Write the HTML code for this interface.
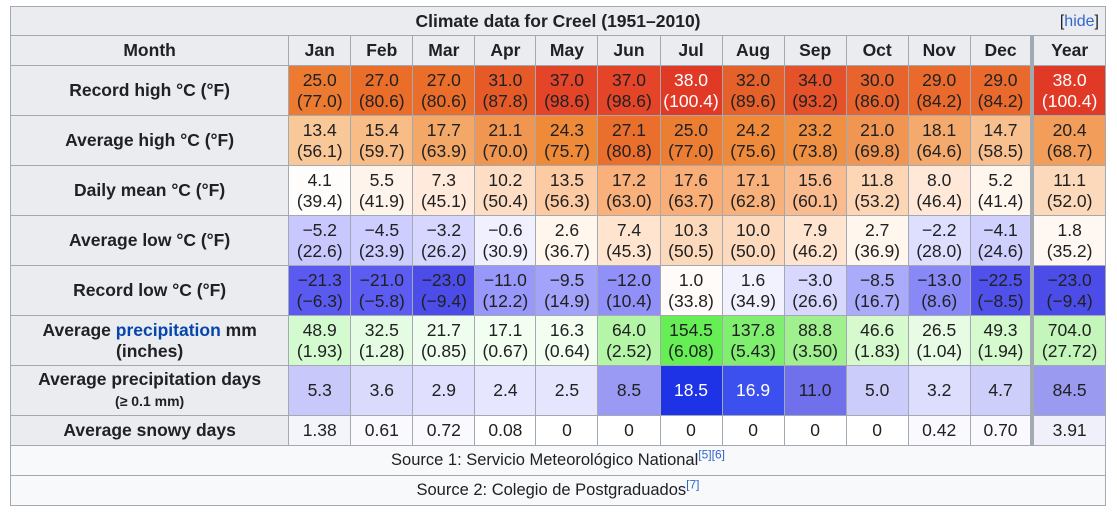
<!DOCTYPE html>
<html><head><meta charset="utf-8"><style>
body{margin:0;background:#fff;width:1117px;height:527px;overflow:hidden;font-family:"Liberation Sans",Arial,sans-serif;color:#202122}
table{position:absolute;left:10px;top:6px;border-collapse:collapse;table-layout:fixed;width:1096px;font-size:17.5px;line-height:21px}
td,th{border:1px solid #a2a9b1;text-align:center;padding:0;overflow:hidden;white-space:nowrap}
th{background:#eaecf0;font-weight:bold}
.t th{height:28px}
.h th{height:29px}
.r td,.r th{height:49px}
.s td,.s th{height:29px}
.src td{background:#f8f9fa;height:29px;font-size:16.5px}
.w{color:#fff}
.yr{border-left:4px solid #a2a9b1}
sup{font-size:12px;color:#3366cc;line-height:0}
a{color:#0645ad;text-decoration:none}
</style></head><body>
<table>
<colgroup><col style="width:278px"><col style="width:62px"><col style="width:62px"><col style="width:62px"><col style="width:61px"><col style="width:62px"><col style="width:62px"><col style="width:62px"><col style="width:62px"><col style="width:62px"><col style="width:62px"><col style="width:62px"><col style="width:62px"><col style="width:73px"></colgroup>
<tr class="t"><th colspan="14" style="position:relative">Climate data for Creel (1951–2010)<span style="position:absolute;right:6px;top:4px;font-weight:normal;font-size:16px">[<a style="color:#3366cc">hide</a>]</span></th></tr>
<tr class="h"><th>Month</th><th>Jan</th><th>Feb</th><th>Mar</th><th>Apr</th><th>May</th><th>Jun</th><th>Jul</th><th>Aug</th><th>Sep</th><th>Oct</th><th>Nov</th><th>Dec</th><th class="yr">Year</th></tr>
<tr class="r"><th>Record high °C (°F)</th>
<td style="background:#ec7a30">25.0<br>(77.0)</td><td style="background:#ea6e2a">27.0<br>(80.6)</td><td style="background:#ea6e2a">27.0<br>(80.6)</td><td style="background:#e65a28">31.0<br>(87.8)</td><td style="background:#e44428">37.0<br>(98.6)</td><td style="background:#e44428">37.0<br>(98.6)</td><td class="w" style="background:#e03a26">38.0<br>(100.4)</td><td style="background:#e6602a">32.0<br>(89.6)</td><td style="background:#e5522a">34.0<br>(93.2)</td><td style="background:#e8642c">30.0<br>(86.0)</td><td style="background:#ea6a2e">29.0<br>(84.2)</td><td style="background:#ea6a2e">29.0<br>(84.2)</td><td class="w yr" style="background:#e03a26">38.0<br>(100.4)</td></tr>
<tr class="r"><th>Average high °C (°F)</th>
<td style="background:#f9c898">13.4<br>(56.1)</td><td style="background:#f8bc86">15.4<br>(59.7)</td><td style="background:#f4a868">17.7<br>(63.9)</td><td style="background:#f09650">21.1<br>(70.0)</td><td style="background:#ee8a38">24.3<br>(75.7)</td><td style="background:#ea6e2c">27.1<br>(80.8)</td><td style="background:#ec7e34">25.0<br>(77.0)</td><td style="background:#ee8a3a">24.2<br>(75.6)</td><td style="background:#ef9042">23.2<br>(73.8)</td><td style="background:#f09652">21.0<br>(69.8)</td><td style="background:#f4aa6c">18.1<br>(64.6)</td><td style="background:#f8c08e">14.7<br>(58.5)</td><td class="yr" style="background:#f29e5a">20.4<br>(68.7)</td></tr>
<tr class="r"><th>Daily mean °C (°F)</th>
<td style="background:#fffdfb">4.1<br>(39.4)</td><td style="background:#fff4ec">5.5<br>(41.9)</td><td style="background:#ffeadb">7.3<br>(45.1)</td><td style="background:#fddec4">10.2<br>(50.4)</td><td style="background:#fccba4">13.5<br>(56.3)</td><td style="background:#f9b07b">17.2<br>(63.0)</td><td style="background:#f9ae78">17.6<br>(63.7)</td><td style="background:#f9b17c">17.1<br>(62.8)</td><td style="background:#fabc8e">15.6<br>(60.1)</td><td style="background:#fdd6b6">11.8<br>(53.2)</td><td style="background:#ffe8d8">8.0<br>(46.4)</td><td style="background:#fff6ee">5.2<br>(41.4)</td><td class="yr" style="background:#fdd9bc">11.1<br>(52.0)</td></tr>
<tr class="r"><th>Average low °C (°F)</th>
<td style="background:#c8c8ff">−5.2<br>(22.6)</td><td style="background:#cdcdff">−4.5<br>(23.9)</td><td style="background:#d6d6ff">−3.2<br>(26.2)</td><td style="background:#f0f0ff">−0.6<br>(30.9)</td><td style="background:#fff6ee">2.6<br>(36.7)</td><td style="background:#ffe4d0">7.4<br>(45.3)</td><td style="background:#fdd9bc">10.3<br>(50.5)</td><td style="background:#fddabe">10.0<br>(50.0)</td><td style="background:#ffe4d0">7.9<br>(46.2)</td><td style="background:#fff6ee">2.7<br>(36.9)</td><td style="background:#dedeff">−2.2<br>(28.0)</td><td style="background:#d0d0ff">−4.1<br>(24.6)</td><td class="yr" style="background:#fff8f2">1.8<br>(35.2)</td></tr>
<tr class="r"><th>Record low °C (°F)</th>
<td style="background:#5a5af0">−21.3<br>(−6.3)</td><td style="background:#5c5cf2">−21.0<br>(−5.8)</td><td style="background:#4c4ce8">−23.0<br>(−9.4)</td><td style="background:#9898fa">−11.0<br>(12.2)</td><td style="background:#a3a3fb">−9.5<br>(14.9)</td><td style="background:#9090f8">−12.0<br>(10.4)</td><td style="background:#fffbf8">1.0<br>(33.8)</td><td style="background:#f2f2ff">1.6<br>(34.9)</td><td style="background:#d8d8ff">−3.0<br>(26.6)</td><td style="background:#ababfc">−8.5<br>(16.7)</td><td style="background:#8888f6">−13.0<br>(8.6)</td><td style="background:#5050ea">−22.5<br>(−8.5)</td><td class="yr" style="background:#4c4ce8">−23.0<br>(−9.4)</td></tr>
<tr class="r"><th>Average <a>precipitation</a> mm<br>(inches)</th>
<td style="background:#d4fad0">48.9<br>(1.93)</td><td style="background:#e4fce1">32.5<br>(1.28)</td><td style="background:#eefded">21.7<br>(0.85)</td><td style="background:#f2fef0">17.1<br>(0.67)</td><td style="background:#f3fef1">16.3<br>(0.64)</td><td style="background:#b5f5a8">64.0<br>(2.52)</td><td style="background:#66ee55">154.5<br>(6.08)</td><td style="background:#80ee6e">137.8<br>(5.43)</td><td style="background:#a0f08f">88.8<br>(3.50)</td><td style="background:#d6face">46.6<br>(1.83)</td><td style="background:#e8fce5">26.5<br>(1.04)</td><td style="background:#d4facd">49.3<br>(1.94)</td><td class="yr" style="background:#c4f6bb">704.0<br>(27.72)</td></tr>
<tr class="r"><th>Average precipitation days<br><span style="font-size:14px">(≥ 0.1 mm)</span></th>
<td style="background:#c8c8fa">5.3</td><td style="background:#dadafd">3.6</td><td style="background:#e0e0fe">2.9</td><td style="background:#e6e6fe">2.4</td><td style="background:#e5e5fe">2.5</td><td style="background:#9a9af4">8.5</td><td class="w" style="background:#1e32e6">18.5</td><td class="w" style="background:#3c50f0">16.9</td><td style="background:#7070ec">11.0</td><td style="background:#ccccfa">5.0</td><td style="background:#ddddfd">3.2</td><td style="background:#cecefa">4.7</td><td class="yr" style="background:#9a9af0">84.5</td></tr>
<tr class="s"><th>Average snowy days</th>
<td style="background:#f4f5fb">1.38</td><td style="background:#fafafe">0.61</td><td style="background:#f9f9fe">0.72</td><td>0.08</td><td>0</td><td>0</td><td>0</td><td>0</td><td>0</td><td>0</td><td style="background:#fafafe">0.42</td><td style="background:#f9f9fe">0.70</td><td class="yr" style="background:#f0f0fa">3.91</td></tr>
<tr class="src"><td colspan="14">Source 1: Servicio Meteorológico National<sup>[5][6]</sup></td></tr>
<tr class="src"><td colspan="14">Source 2: Colegio de Postgraduados<sup>[7]</sup></td></tr>
</table>
</body></html>
